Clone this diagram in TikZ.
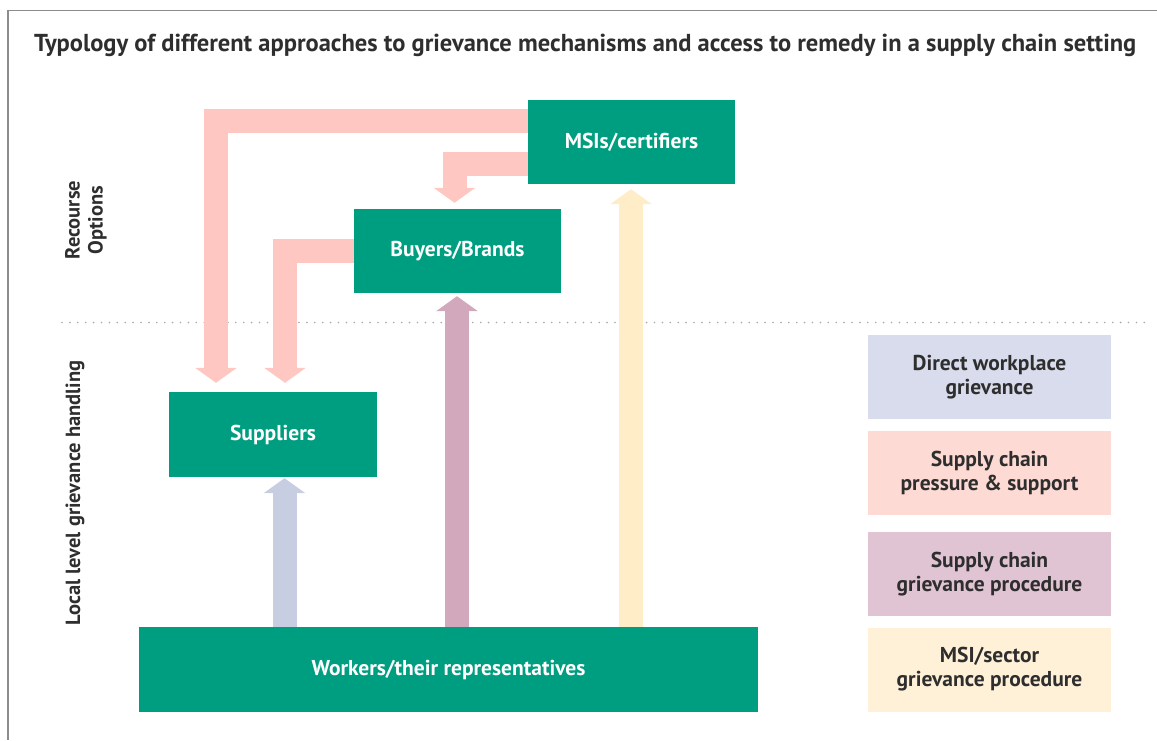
\documentclass[tikz,border=0pt]{standalone}
\usepackage{fontspec}
\setmainfont{PT Sans}
\usetikzlibrary{arrows.meta,calc}

\definecolor{boxgreen}{HTML}{009E80}
\definecolor{txtgray}{HTML}{2E2E2E}
\definecolor{framegray}{HTML}{8C8C8C}
\definecolor{dotgray}{HTML}{A3ABAB}
\definecolor{arrblue}{HTML}{C8CEE1}
\definecolor{arrpink}{HTML}{FFC7C1}
\definecolor{arrmauve}{HTML}{D2A8BC}
\definecolor{arrcream}{HTML}{FEEDC6}
\definecolor{keyblue}{HTML}{D9DCEC}
\definecolor{keypink}{HTML}{FEDAD4}
\definecolor{keymauve}{HTML}{E1C4D3}
\definecolor{keycream}{HTML}{FEF1D8}

\tikzset{
  greenbox/.style={fill=boxgreen, text=white, font=\fontsize{21.5}{24}\selectfont\bfseries,
    minimum width=207pt, minimum height=84pt, inner sep=0pt},
  keybox/.style={text=txtgray, font=\fontsize{21.5}{24}\selectfont\bfseries, align=center,
    minimum width=243pt, minimum height=84pt, inner sep=0pt},
  sidelabel/.style={rotate=90, text=txtgray, font=\fontsize{20.5}{23}\selectfont\bfseries, align=center},
  blockarrow/.style={line width=24pt, -{Triangle[width=41pt,length=15pt]}},
}

\begin{document}
\begin{tikzpicture}[x=1pt,y=1pt,yscale=-1,xscale=1]
\useasboundingbox (0,0) rectangle (1157,740);

%Frame
\draw [framegray, line width=1.5pt] (8,740) -- (8,10.5) -- (1157,10.5) ;

% Text Node
\node [anchor=west, text=txtgray, font=\fontsize{24.5}{28}\selectfont\bfseries, inner sep=0pt] (title) at (34,45)
  {Typology of different approaches to grievance mechanisms and access to remedy in a supply chain setting};

%Dotted divider
\draw [dotgray, line width=1.8pt, line cap=round, dash pattern={on 0pt off 7.9pt}] (62,322.5) -- (1146,322.5) ;

% Side labels
\node [sidelabel] (recourse) at (86,220) {Recourse\\Options};
\node [sidelabel] (local) at (75,493) {Local level grievance handling};

% Actors
\node [greenbox] (msi) at (631.5,142) {MSIs/certifiers};
\node [greenbox] (buy) at (457.5,251) {Buyers/Brands};
\node [greenbox, minimum width=208pt, minimum height=85pt] (sup) at (273,434.5) {Suppliers};
\node [greenbox, minimum width=619pt, minimum height=85pt] (work) at (448.5,669.5) {Workers/their representatives};

% Key
\node [keybox, fill=keyblue] (kdirect) at (989.5,377) {Direct workplace\\grievance};
\node [keybox, fill=keypink] (kpressure) at (989.5,473) {Supply chain\\pressure \& support};
\node [keybox, fill=keymauve] (kchain) at (989.5,574) {Supply chain\\grievance procedure};
\node [keybox, fill=keycream] (ksector) at (989.5,669.5) {MSI/sector\\grievance procedure};

% Arrow columns
\coordinate (bx) at (284.5,0);
\coordinate (mx) at (457,0);
\coordinate (cx) at (631,0);

%Up arrows
\draw [blockarrow, arrblue, shorten >=1pt] (work.north -| bx) -- (sup.south -| bx) ;
\draw [blockarrow, arrmauve, shorten >=3pt] (work.north -| mx) -- (buy.south -| mx) ;
\draw [blockarrow, arrcream, shorten >=5pt] (work.north -| cx) -- (msi.south -| cx) ;

%Pressure arrows
\draw [blockarrow, arrpink, shorten >=9pt] ($(msi.west)+(0,-21)$) -| ($(sup.north)+(-57,0)$) ;
\draw [blockarrow, arrpink, shorten >=6pt] ($(msi.west)+(0,21.5)$) -| ($(buy.north)+(-3,0)$) ;
\draw [blockarrow, arrpink, shorten >=9pt] (buy.west) -| ($(sup.north)+(12,0)$) ;

\end{tikzpicture}
\end{document}
